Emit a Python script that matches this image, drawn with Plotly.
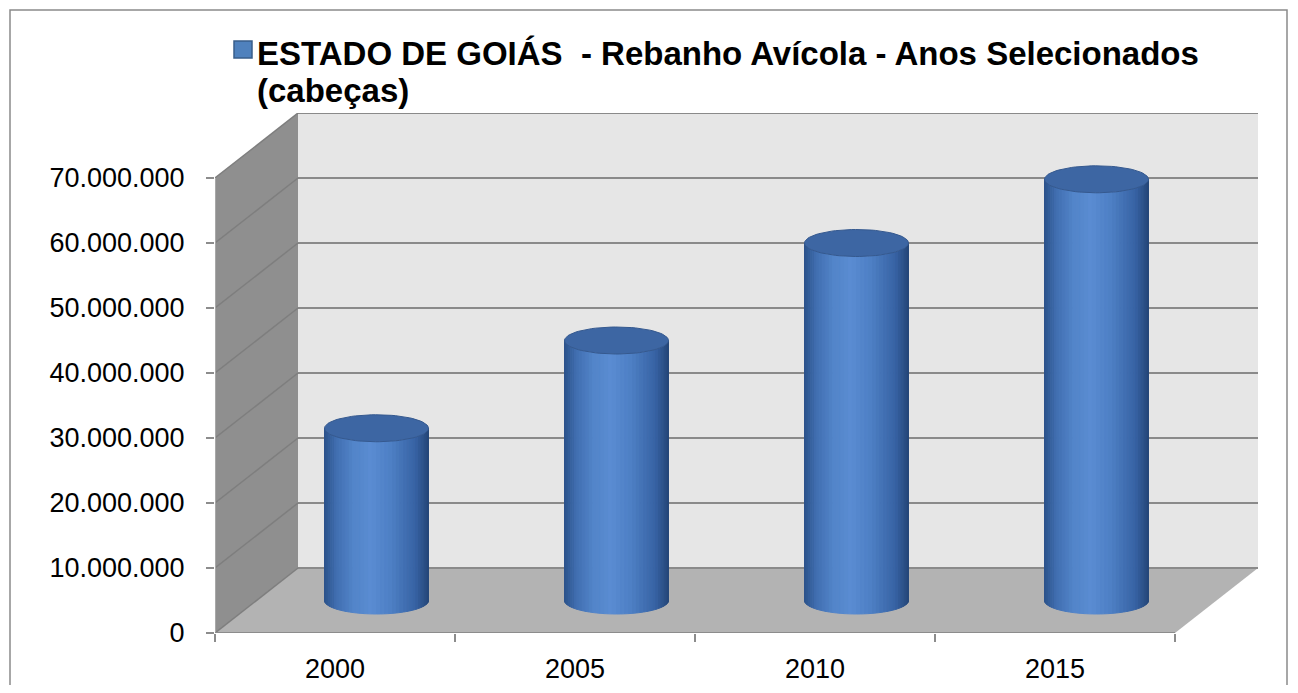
import numpy as np
import plotly.graph_objects as go

# ---------------- data ----------------
anos = ["2000", "2005", "2010", "2015"]
rebanho = [26.5e6, 40.0e6, 55.0e6, 64.8e6]
y_ticks = [0, 10e6, 20e6, 30e6, 40e6, 50e6, 60e6, 70e6]
y_tick_labels = ["0", "10.000.000", "20.000.000", "30.000.000", "40.000.000",
                 "50.000.000", "60.000.000", "70.000.000"]
titulo_l1 = "ESTADO DE GOIÁS  - Rebanho Avícola - Anos Selecionados"
titulo_l2 = "(cabeças)"

# ---------------- geometry (pixels -> axis units) ----------------
OFF = 8                  # page body margin of the browser
W, H = 1298 - 2 * OFF, 693 - 2 * OFF
PX_CAT = 240            # pixels per category
PX_STEP = 65            # pixels per y tick step
STEP = y_ticks[1] - y_ticks[0]
DEPTH_PX_X = 83
FRONT_LEFT_PX = 215      # screen x of front-left corner
FRONT_BOTTOM_PX = 633    # screen y of front floor edge

n = len(anos)
dx = DEPTH_PX_X / PX_CAT          # depth offset in x units
dy = STEP                          # depth offset in y units (65 px)
x_min = -0.5
x_front_max = n - 0.5
x_max = x_front_max + dx
y_max = max(y_ticks) + dy
plot_w = (x_max - x_min) * PX_CAT
plot_h = y_max / STEP * PX_STEP
L = FRONT_LEFT_PX - OFF
B = H - (FRONT_BOTTOM_PX - OFF)
R = W - L - plot_w
T = H - B - plot_h

def px_to_paper_x(px):
    return (px - OFF - L) / plot_w

def px_to_paper_y(py):
    return (H - B - (py - OFF)) / plot_h

# cylinder size
rx = 52 / PX_CAT
ry = 13.5 / PX_STEP * STEP

# ---------------- colours ----------------
BACK_WALL = "#e6e6e6"
SIDE_WALL = "#8f8f8f"
FLOOR = "#b3b3b3"
GRID = "#8a8a8a"
AXIS = "#8c8c8c"

stops = [(0.0, (0x26, 0x48, 0x7a)), (0.12, (0x37, 0x62, 0xa3)), (0.35, (0x4d, 0x7f, 0xc4)),
         (0.55, (0x5a, 0x8c, 0xd2)), (0.72, (0x52, 0x84, 0xc9)), (0.88, (0x41, 0x6f, 0xb1)),
         (1.0, (0x2c, 0x52, 0x8a))]

def shade(u):
    for (u0, c0), (u1, c1) in zip(stops[:-1], stops[1:]):
        if u0 <= u <= u1:
            f = (u - u0) / (u1 - u0) if u1 > u0 else 0
            c = [round(a + (b - a) * f) for a, b in zip(c0, c1)]
            return "rgb(%d,%d,%d)" % tuple(c)
    return "rgb(%d,%d,%d)" % stops[-1][1]

fig = go.Figure()

# ---------------- cylinder bodies (vertical strips) ----------------
N = 40
thetas = np.linspace(np.pi, 0, N + 1)
for k in range(N):
    ta, tb = thetas[k], thetas[k + 1]
    th = np.linspace(ta, tb, 5)
    umid = (1 - np.cos((ta + tb) / 2)) / 2
    xs, ys = [], []
    for i, v in enumerate(rebanho):
        cx = i + dx / 2
        base = dy / 2
        top = v + dy / 2
        bx = cx + rx * np.cos(th)
        by = base - ry * np.sin(th)
        tx = bx[::-1]
        tyy = top - ry * np.sin(th[::-1])
        xs += list(bx) + list(tx) + [bx[0], None]
        ys += list(by) + list(tyy) + [by[0], None]
    col = shade(umid)
    fig.add_trace(go.Scatter(x=xs, y=ys, mode="lines", fill="toself", fillcolor=col,
                             line=dict(color=col, width=1), hoverinfo="skip",
                             showlegend=False, connectgaps=False))

# ---------------- cylinder tops ----------------
te = np.linspace(0, 2 * np.pi, 80)
xs, ys = [], []
for i, v in enumerate(rebanho):
    cx = i + dx / 2
    top = v + dy / 2
    xs += list(cx + rx * np.cos(te)) + [None]
    ys += list(top + ry * np.sin(te)) + [None]
fig.add_trace(go.Scatter(x=xs, y=ys, mode="lines", fill="toself", fillcolor="#3d66a3",
                         line=dict(color="#35598f", width=1), hoverinfo="skip",
                         showlegend=False, connectgaps=False,
                         name=titulo_l1 + " " + titulo_l2))

# ---------------- walls, floor, grid ----------------
shapes = []
# back wall
shapes.append(dict(type="rect", xref="x", yref="y", x0=x_min + dx, x1=x_max, y0=dy, y1=y_max,
                   fillcolor=BACK_WALL, line=dict(width=0), layer="below"))
# side wall
shapes.append(dict(type="path", xref="x", yref="y",
                   path=f"M {x_min},0 L {x_min},{max(y_ticks)} L {x_min+dx},{y_max} L {x_min+dx},{dy} Z",
                   fillcolor=SIDE_WALL, line=dict(width=0), layer="below"))
# floor
shapes.append(dict(type="path", xref="x", yref="y",
                   path=f"M {x_min},0 L {x_front_max},0 L {x_max},{dy} L {x_min+dx},{dy} Z",
                   fillcolor=FLOOR, line=dict(width=0), layer="below"))
for v in y_ticks:
    shapes.append(dict(type="line", xref="x", yref="y", x0=x_min + dx, x1=x_max, y0=v + dy, y1=v + dy,
                       line=dict(color=GRID, width=2), layer="below"))
    shapes.append(dict(type="line", xref="x", yref="y", x0=x_min, x1=x_min + dx, y0=v, y1=v + dy,
                       line=dict(color="#7e7e7e", width=1.5), layer="below"))
# front edge of side wall
shapes.append(dict(type="line", xref="x", yref="y", x0=x_min, x1=x_min, y0=0, y1=max(y_ticks),
                   line=dict(color="#a8a8a8", width=2), layer="below"))
# front edge of floor (axis line)
shapes.append(dict(type="line", xref="x", yref="y", x0=x_min, x1=x_front_max, y0=0, y1=0,
                   line=dict(color=AXIS, width=2), layer="below"))
# outer chart border
shapes.append(dict(type="rect", xref="paper", yref="paper",
                   x0=px_to_paper_x(10), x1=px_to_paper_x(1287),
                   y0=px_to_paper_y(705), y1=px_to_paper_y(10),
                   line=dict(color="#8a8a8a", width=1.5), fillcolor="rgba(0,0,0,0)", layer="below"))
# legend key square
shapes.append(dict(type="rect", xref="paper", yref="paper",
                   x0=px_to_paper_x(234), x1=px_to_paper_x(252),
                   y0=px_to_paper_y(58), y1=px_to_paper_y(41),
                   fillcolor="#4f81bd", line=dict(color="#385d8a", width=1.5)))

annotations = [
    dict(xref="paper", yref="paper", x=px_to_paper_x(255), y=px_to_paper_y(54),
         xanchor="left", yanchor="middle", showarrow=False, text="<b>" + titulo_l1 + "</b>",
         font=dict(size=33, color="black", family="Liberation Sans, Arial")),
    dict(xref="paper", yref="paper", x=px_to_paper_x(255), y=px_to_paper_y(91),
         xanchor="left", yanchor="middle", showarrow=False, text="<b>" + titulo_l2 + "</b>",
         font=dict(size=33, color="black", family="Liberation Sans, Arial")),
]

fig.update_layout(
    width=W, height=H,
    margin=dict(l=L, r=R, t=T, b=B, pad=0, autoexpand=False),
    paper_bgcolor="white", plot_bgcolor="white",
    font=dict(family="Liberation Sans, Arial", color="black"),
    showlegend=False,
    shapes=shapes,
    annotations=annotations,
    xaxis=dict(range=[x_min, x_max], tickmode="array", tickvals=list(range(n)), ticktext=anos,
               ticks="outside", ticklen=8, tickcolor="rgba(0,0,0,0)",
               showgrid=False, zeroline=False, showline=False, automargin=False,
               minor=dict(tickmode="array", tickvals=[k - 0.5 for k in range(n + 1)],
                          ticks="outside", ticklen=8, tickcolor=AXIS, tickwidth=2, showgrid=False),
               tickfont=dict(size=27, color="black"), ticklabelstandoff=4, fixedrange=True),
    yaxis=dict(range=[0, y_max], tickmode="array", tickvals=y_ticks, ticktext=y_tick_labels,
               ticks="outside", ticklen=8, tickcolor=AXIS, tickwidth=2,
               showgrid=False, zeroline=False, showline=False, automargin=False,
               tickfont=dict(size=27, color="black"), ticklabelstandoff=16, fixedrange=True),
)

fig.write_html("out.html")
